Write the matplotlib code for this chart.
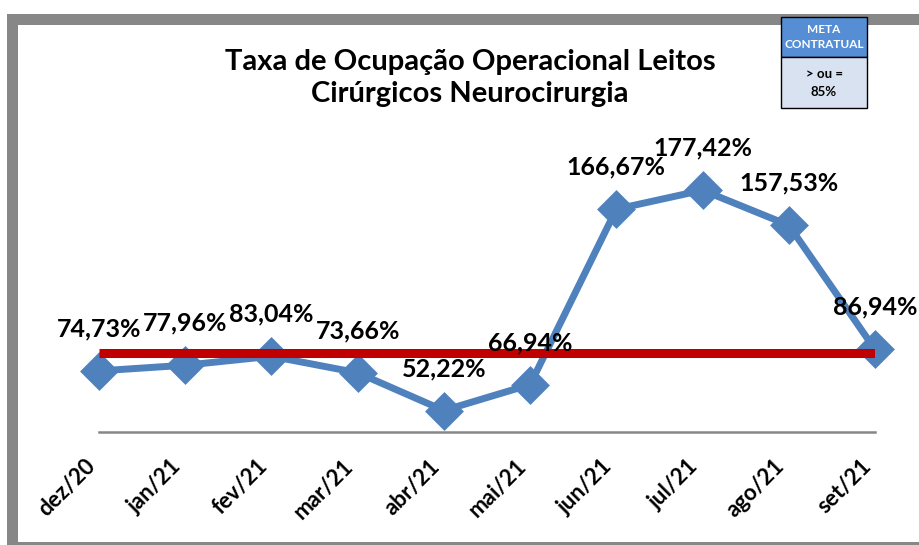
import matplotlib
matplotlib.use("Agg")
import matplotlib.pyplot as plt
import matplotlib.patches as mpatches

plt.rcParams["font.family"] = ["Lato", "DejaVu Sans"]

MONTHS = ["dez/20", "jan/21", "fev/21", "mar/21", "abr/21", "mai/21",
          "jun/21", "jul/21", "ago/21", "set/21"]
TAXA = [74.73, 77.96, 83.04, 73.66, 52.22, 66.94, 166.67, 177.42, 157.53, 86.94]
META = 85.0
TITLE = "Taxa de Ocupação Operacional Leitos\nCirúrgicos Neurocirurgia"

BLUE = "#4F81BD"
RED = "#C00000"
GRAY = "#878787"

fig = plt.figure(figsize=(9.19, 5.45), dpi=100)
ax = fig.add_axes([99 / 919, 113 / 545, 776 / 919, 281.5 / 545])

x = list(range(len(MONTHS)))
ax.plot(x, TAXA, color=BLUE, lw=5, marker="D", ms=16, mec=BLUE, mew=3.5,
        solid_joinstyle="round", clip_on=False, zorder=3)
ax.hlines(META, x[0], x[-1], color=RED, lw=6.5, zorder=4)

for xi, v in zip(x, TAXA):
    ax.annotate(f"{v:.2f}".replace(".", ",") + "%", (xi, v),
                xytext=(0, 42), textcoords="offset pixels",
                ha="center", va="center", fontsize=18, fontweight="bold",
                color="black", zorder=5, annotation_clip=False)

ax.set_xlim(0, len(MONTHS) - 1)
ax.set_ylim(40, 200)
ax.set_xticks(x)
ax.set_xticklabels(MONTHS, rotation=45, ha="right", fontsize=16, fontweight="bold")
ax.tick_params(axis="x", length=0, pad=17)
ax.set_yticks([])
for s in ["top", "left", "right"]:
    ax.spines[s].set_visible(False)
ax.spines["bottom"].set_color(GRAY)
ax.spines["bottom"].set_linewidth(1.8)

fig.text(470 / 919, 1 - 78 / 545, TITLE, ha="center", va="center",
         fontsize=21, fontweight="bold", linespacing=1.25)

# outer frame
fig.patches.append(mpatches.Rectangle((7 / 919, 0), 11 / 919, 1 - 14 / 545,
                                      transform=fig.transFigure, color=GRAY, lw=0))
fig.patches.append(mpatches.Rectangle((7 / 919, 1 - 25 / 545), 1, 11 / 545,
                                      transform=fig.transFigure, color=GRAY, lw=0))
fig.patches.append(mpatches.Rectangle((7 / 919, 0), 1, 3 / 545,
                                      transform=fig.transFigure, color=GRAY, lw=0))

# meta contratual box
bx, bw = 781 / 919, 86 / 919
fig.patches.append(mpatches.Rectangle((bx, 1 - 57 / 545), bw, 40 / 545,
                                      transform=fig.transFigure, fc="#558ED5",
                                      ec="black", lw=1, zorder=5))
fig.patches.append(mpatches.Rectangle((bx, 1 - 108 / 545), bw, 51 / 545,
                                      transform=fig.transFigure, fc="#D9E2F0",
                                      ec="black", lw=1, zorder=5))
fig.text(bx + bw / 2, 1 - 37 / 545, "META\nCONTRATUAL", ha="center", va="center",
         fontsize=8.5, fontweight="bold", color="white", linespacing=1.4, zorder=6)
fig.text(bx + bw / 2, 1 - 83 / 545, "> ou =\n85%", ha="center", va="center",
         fontsize=9.5, fontweight="bold", color="black", linespacing=1.6, zorder=6)

fig.savefig("out.png", dpi=100)
